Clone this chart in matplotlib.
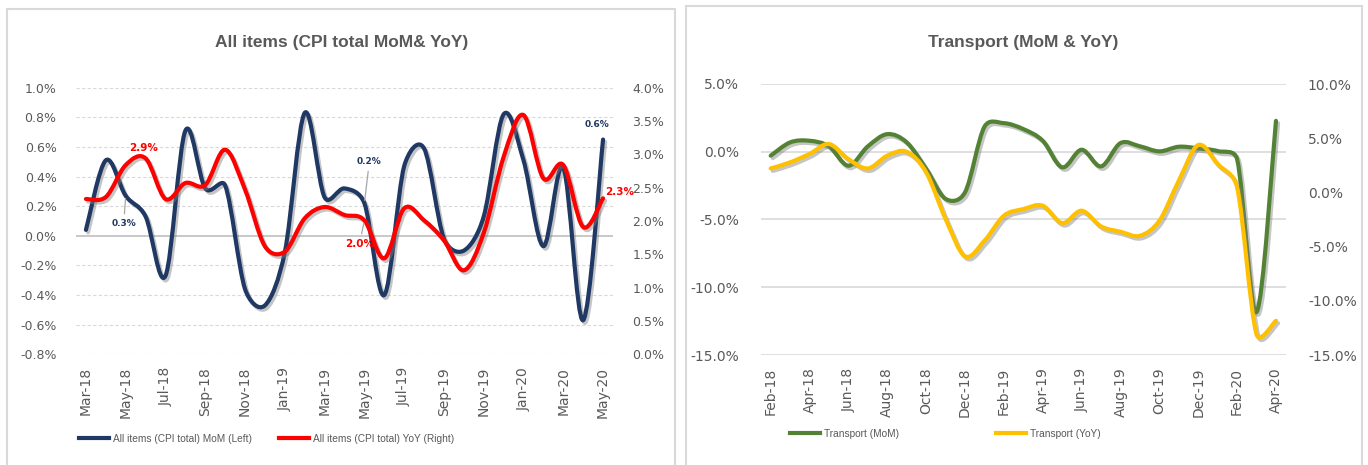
import numpy as np
import matplotlib
matplotlib.use("Agg")
import matplotlib.pyplot as plt
from matplotlib.path import Path
from matplotlib.patches import PathPatch, Rectangle
from matplotlib.lines import Line2D
from matplotlib.font_manager import FontProperties
import matplotlib.patheffects as pe

# ---- data (values in %) ----
cpi_months = ["Mar-18", "Apr-18", "May-18", "Jun-18", "Jul-18", "Aug-18", "Sep-18", "Oct-18",
              "Nov-18", "Dec-18", "Jan-19", "Feb-19", "Mar-19", "Apr-19", "May-19", "Jun-19",
              "Jul-19", "Aug-19", "Sep-19", "Oct-19", "Nov-19", "Dec-19", "Jan-20", "Feb-20",
              "Mar-20", "Apr-20", "May-20"]
cpi_mom = [0.04, 0.51, 0.27, 0.13, -0.27, 0.71, 0.32, 0.34, -0.36, -0.47, -0.11, 0.83, 0.26,
           0.32, 0.22, -0.40, 0.47, 0.59, -0.02, -0.10, 0.13, 0.82, 0.51, -0.07, 0.46, -0.57, 0.65]
cpi_yoy = [2.33, 2.36, 2.84, 2.94, 2.33, 2.57, 2.54, 3.07, 2.47, 1.62, 1.54, 2.04, 2.21,
           2.09, 2.01, 1.44, 2.19, 2.01, 1.71, 1.26, 1.82, 2.96, 3.59, 2.64, 2.84, 1.91, 2.34]

tr_months = ["Feb-18", "Mar-18", "Apr-18", "May-18", "Jun-18", "Jul-18", "Aug-18", "Sep-18",
             "Oct-18", "Nov-18", "Dec-18", "Jan-19", "Feb-19", "Mar-19", "Apr-19", "May-19",
             "Jun-19", "Jul-19", "Aug-19", "Sep-19", "Oct-19", "Nov-19", "Dec-19", "Jan-20",
             "Feb-20", "Mar-20", "Apr-20"]
tr_mom = [-0.29, 0.69, 0.81, 0.40, -1.03, 0.40, 1.30, 0.69, -1.27, -3.48, -2.99, 1.85, 2.11,
          1.67, 0.81, -1.15, 0.15, -1.08, 0.64, 0.40, 0.03, 0.37, 0.25, 0.05, -0.55, -11.83, 2.28]
tr_yoy = [2.21, 2.77, 3.55, 4.46, 3.07, 2.21, 3.39, 3.75, 1.85, -2.46, -5.90, -4.46, -2.15,
          -1.54, -1.23, -2.83, -1.69, -3.14, -3.63, -4.00, -2.61, 1.08, 4.37, 2.61, 0.46, -13.1, -11.84]

W, H = 1368, 465
fig = plt.figure(figsize=(W / 100, H / 100), dpi=100)
grey = "#595959"
shadow = [pe.SimpleLineShadow(offset=(1.5, -1.8), shadow_color="#7f7f7f", alpha=0.45), pe.Normal()]


def smooth(ax, y, color, lw=3.0):
    # excel style smoothed line: cubic bezier through every point,
    # handles worked out in screen space and kept shorter than half the segment
    x = np.arange(len(y), dtype=float)
    pts = ax.transData.transform(np.column_stack([x, np.asarray(y, dtype=float)]))
    p = np.vstack([pts[0], pts, pts[-1]])
    verts = [pts[0]]
    codes = [Path.MOVETO]
    for i in range(len(pts) - 1):
        a, b = p[i + 1], p[i + 2]
        seg = np.hypot(*(b - a))
        t1 = (p[i + 2] - p[i]) / 6
        t2 = (p[i + 3] - p[i + 1]) / 6
        for t in (t1, t2):
            ln = np.hypot(*t)
            if ln > 0.5 * seg:
                t *= 0.5 * seg / ln
        verts += [a + t1, b - t2, b]
        codes += [Path.CURVE4] * 3
    verts = ax.transData.inverted().transform(np.array(verts))
    patch = PathPatch(Path(verts, codes), fill=False, edgecolor=color, lw=lw,
                      capstyle="round", joinstyle="round", path_effects=shadow)
    ax.add_patch(patch)


def pct(vals):
    return [f"{round(v, 1) + 0.0:.1f}%" for v in vals]


def fx(px):
    return px / W


def fy(py):
    return 1 - py / H


# ---- panel borders ----
for x0, x1, y0 in [(7, 675, 9), (686, 1362, 6)]:
    fig.patches.append(Rectangle((fx(x0), fy(470)), fx(x1) - fx(x0), fy(y0) - fy(470),
                                 transform=fig.transFigure, fill=False,
                                 edgecolor="#d9d9d9", lw=1.5))

# ---- left chart ----
ax1 = fig.add_axes([fx(76), fy(354.3), fx(613) - fx(76), fy(87.7) - fy(354.3)])
ax2 = ax1.twinx()
n = len(cpi_months)
ax1.set_xlim(-0.5, n - 0.5)
ax1.set_ylim(-0.8, 1.0)
ax2.set_ylim(0, 4.0)
lt = np.arange(-0.8, 1.01, 0.2)
rt = np.arange(0, 4.01, 0.5)
ax1.set_yticks(lt)
ax2.set_yticks(rt)
ax1.set_yticklabels(pct(lt))
ax2.set_yticklabels(pct(rt))
ax1.set_xticks(range(0, n, 2))
ax1.set_xticklabels(cpi_months[::2], rotation=90)
for v in lt:
    if abs(v) < 1e-9:
        ax1.axhline(0, color="#bfbfbf", lw=1.2, zorder=0)
    else:
        ax1.axhline(v, color="#d9d9d9", lw=0.8, ls=(0, (3, 2)), zorder=0)
for a in (ax1, ax2):
    for s in a.spines.values():
        s.set_visible(False)
ax1.tick_params(axis="y", length=0, pad=14, labelsize=9, labelcolor=grey)
ax2.tick_params(axis="y", length=0, pad=14, labelsize=9, labelcolor=grey)
ax1.tick_params(axis="x", length=0, pad=9, labelsize=10, labelcolor=grey)

smooth(ax1, cpi_mom, "#203864")
smooth(ax2, cpi_yoy, "#ff0000")

navy_lbl = dict(color="#203864", fontsize=6.5, fontweight="bold", ha="center", va="center",
                textcoords="offset pixels")
red_lbl = dict(color="#ff0000", fontsize=7.5, fontweight="bold", ha="center", va="center",
               textcoords="offset pixels")
lead = dict(arrowstyle="-", color="#a6a6a6", lw=0.9, shrinkA=2, shrinkB=2)
ax1.annotate("0.3%", (2, cpi_mom[2]), xytext=(-2, -28), arrowprops=lead, **navy_lbl)
ax2.annotate("2.9%", (3, cpi_yoy[3]), xytext=(-2, 10), **red_lbl)
ax1.annotate("0.2%", (14, cpi_mom[14]), xytext=(5, 42), arrowprops=lead, **navy_lbl)
ax2.annotate("2.0%", (14, cpi_yoy[14]), xytext=(-5, -24), arrowprops=lead, **red_lbl)
ax1.annotate("0.6%", (26, cpi_mom[26]), xytext=(-6, 15), **navy_lbl)
ax2.annotate("2.3%", (26, cpi_yoy[26]), xytext=(17, 6), **red_lbl)

fig.text(fx(341.5), fy(42), "All items (CPI total MoM& YoY)", ha="center", va="center",
         fontsize=12.5, fontweight="bold", color=grey, family=["Liberation Sans", "DejaVu Sans"])

leg_font = FontProperties(family=["Liberation Sans", "DejaVu Sans"], size=7.3)
h1 = [Line2D([], [], color="#203864", lw=3), Line2D([], [], color="#ff0000", lw=3)]
fig.legend(h1, ["All items (CPI total) MoM (Left)", "All items (CPI total) YoY (Right)"],
           loc="center left", bbox_to_anchor=(fx(79), fy(439)), ncol=2, frameon=False,
           prop=leg_font, handlelength=3.0, handletextpad=0.4, columnspacing=2.6,
           borderpad=0, borderaxespad=0, labelcolor=grey)

# ---- right chart ----
ax3 = fig.add_axes([fx(761), fy(355), fx(1285.7) - fx(761), fy(84) - fy(355)])
ax4 = ax3.twinx()
m = len(tr_months)
ax3.set_xlim(-0.5, m - 0.5)
ax3.set_ylim(-15, 5)
ax4.set_ylim(-15, 10)
lt3 = np.arange(-15, 5.1, 5)
rt4 = np.arange(-15, 10.1, 5)
ax3.set_yticks(lt3)
ax4.set_yticks(rt4)
ax3.set_yticklabels(pct(lt3))
ax4.set_yticklabels(pct(rt4))
ax3.set_xticks(range(0, m, 2))
ax3.set_xticklabels(tr_months[::2], rotation=90)
for v in lt3:
    ax3.axhline(v, color="#d9d9d9", lw=1.2, zorder=0)
for a in (ax3, ax4):
    for s in a.spines.values():
        s.set_visible(False)
ax3.tick_params(axis="y", length=0, pad=16, labelsize=10, labelcolor=grey)
ax4.tick_params(axis="y", length=0, pad=16, labelsize=10, labelcolor=grey)
ax3.tick_params(axis="x", length=0, pad=9, labelsize=10, labelcolor=grey)

smooth(ax3, tr_mom, "#548235")
smooth(ax4, tr_yoy, "#ffc000")

fig.text(fx(1023), fy(42), "Transport (MoM & YoY)", ha="center", va="center",
         fontsize=12.5, fontweight="bold", color=grey, family=["Liberation Sans", "DejaVu Sans"])

h2 = [Line2D([], [], color="#548235", lw=3), Line2D([], [], color="#ffc000", lw=3)]
fig.legend(h2, ["Transport (MoM)", "Transport (YoY)"],
           loc="center left", bbox_to_anchor=(fx(790), fy(434)), ncol=2, frameon=False,
           prop=leg_font, handlelength=3.0, handletextpad=0.4, columnspacing=9.5,
           borderpad=0, borderaxespad=0, labelcolor=grey)

fig.savefig("out.png", dpi=100)
